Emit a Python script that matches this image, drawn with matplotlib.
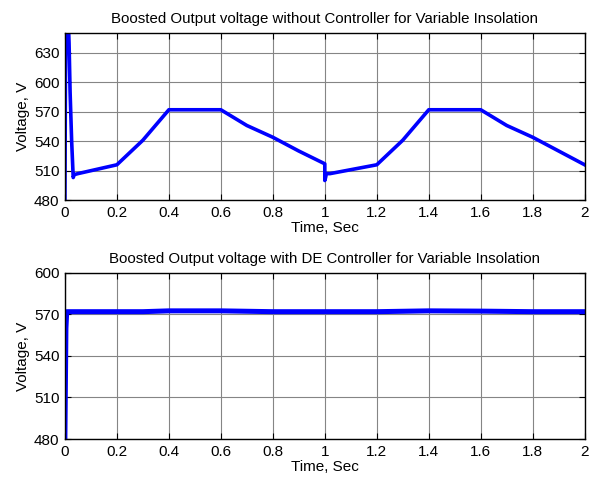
import matplotlib
matplotlib.use('Agg')
import matplotlib.pyplot as plt

plt.rcParams['font.family'] = ['Liberation Sans', 'DejaVu Sans']

# without controller
t_open = [0.0, 0.002, 0.004, 0.012, 0.016, 0.020, 0.026, 0.032, 0.036, 0.05,
          0.2, 0.22, 0.3, 0.4, 0.6, 0.7, 0.8, 0.9, 1.0,
          1.0, 1.003, 1.006, 1.02, 1.2, 1.22, 1.3, 1.4, 1.6, 1.7, 1.8, 1.9, 2.0]
v_open = [480, 600, 660, 670, 640, 590, 540, 503, 506, 507,
          516, 521, 541, 572, 572, 556, 544, 530, 517,
          500, 503, 507, 507, 516, 521, 541, 572, 572, 556, 544, 530, 516]

# with DE controller
t_de = [0.0, 0.002, 0.004, 0.007, 0.1, 0.3, 0.4, 0.6, 0.8, 1.0, 1.2, 1.4, 1.6, 1.8, 2.0]
v_de = [480, 520, 560, 572, 572, 572, 572.6, 572.6, 572, 572, 572, 572.6, 572.4, 572, 572]

x_ticks = [0, 0.2, 0.4, 0.6, 0.8, 1.0, 1.2, 1.4, 1.6, 1.8, 2.0]
x_labels = ['0', '0.2', '0.4', '0.6', '0.8', '1', '1.2', '1.4', '1.6', '1.8', '2']
y_ticks_top = [480, 510, 540, 570, 600, 630]
y_ticks_bottom = [480, 510, 540, 570, 600]

titles = ['Boosted Output voltage without Controller for Variable Insolation',
          'Boosted Output voltage with DE Controller for Variable Insolation']


def style_axes(ax, ylim, yticks):
    ax.set_xlim(0, 2)
    ax.set_ylim(*ylim)
    ax.set_xticks(x_ticks, x_labels)
    ax.set_yticks(yticks, [str(v) for v in yticks])
    ax.grid(True, color='#858585', linewidth=0.8)
    ax.tick_params(direction='in', top=True, right=True, labelsize=11,
                   length=4, pad=4)
    for sp in ax.spines.values():
        sp.set_linewidth(1.0)
    ax.set_xlabel('Time, Sec', fontsize=11, labelpad=1)
    ax.set_ylabel('Voltage, V', fontsize=11, labelpad=3)


fig = plt.figure(figsize=(5.9, 4.8), dpi=100)
ax1 = fig.add_axes([0.110, 0.583, 0.881, 0.348])
ax2 = fig.add_axes([0.110, 0.0854, 0.881, 0.346])

ax1.plot(t_open, v_open, color='#0000ff', linewidth=2.6)
style_axes(ax1, (480, 650), y_ticks_top)
ax1.set_title(titles[0], fontsize=10.8, pad=7)

ax2.plot(t_de, v_de, color='#0000ff', linewidth=3.6)
style_axes(ax2, (480, 600), y_ticks_bottom)
ax2.set_title(titles[1], fontsize=10.8, pad=7)

fig.savefig('out.png', dpi=100)
